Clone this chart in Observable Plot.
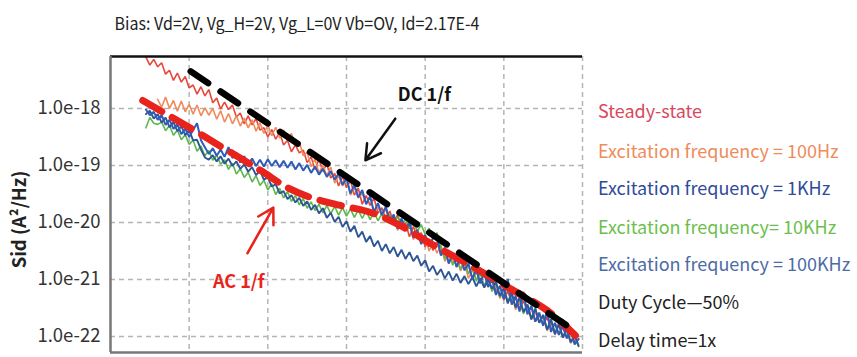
<!DOCTYPE html>
<html><head><meta charset="utf-8">
<script src="https://cdn.jsdelivr.net/npm/d3@7"></script>
<script src="https://cdn.jsdelivr.net/npm/@observablehq/plot@0.6"></script>
<style>
body{margin:0;background:#fff;}
#wrap{position:relative;width:857px;height:357px;overflow:hidden;font-family:"Noto Sans CJK SC","Noto Sans",sans-serif;}
#title{position:absolute;left:0;width:594px;top:10px;text-align:center;font-size:17.5px;color:#222;white-space:nowrap;transform:scaleX(0.915);transform-origin:297px 0;}
#chart{position:absolute;left:0;top:40px;}
.leg{position:absolute;left:598px;font-size:18px;line-height:20px;white-space:nowrap;}
</style></head>
<body>
<div id="wrap">
  <div id="title"></div>
  <div id="chart"></div>
  <div id="legend"></div>
</div>
<script>
const titleText = "Bias: Vd=2V, Vg_H=2V, Vg_L=0V Vb=OV, Id=2.17E-4";
const yLabel = "Sid (A²/Hz)";
const yTicks = [-22, -21, -20, -19, -18];
const xGrid = [1, 2, 3, 4, 5, 6];

// log10 of frequency (x) shared by all measured series
const logFreq = [
0.45,0.50,0.55,0.60,0.65,0.70,0.75,0.80,0.85,0.90,
0.95,1.00,1.05,1.10,1.15,1.20,1.25,1.30,1.35,1.40,
1.45,1.50,1.55,1.60,1.65,1.70,1.75,1.80,1.85,1.90,
1.95,2.00,2.05,2.10,2.15,2.20,2.25,2.30,2.35,2.40,
2.45,2.50,2.55,2.60,2.65,2.70,2.75,2.80,2.85,2.90,
2.95,3.00,3.05,3.10,3.15,3.20,3.25,3.30,3.35,3.40,
3.45,3.50,3.55,3.60,3.65,3.70,3.75,3.80,3.85,3.90,
3.95,4.00,4.05,4.10,4.15,4.20,4.25,4.30,4.35,4.40,
4.45,4.50,4.55,4.60,4.65,4.70,4.75,4.80,4.85,4.90,
4.95,5.00,5.05,5.10,5.15,5.20,5.25,5.30,5.35,5.40,
5.45,5.50,5.55,5.60,5.65,5.70,5.75,5.80,5.85,5.90,
5.95];

// log10 of Sid for each series
const steadyState = [
-17.10,-17.24,-17.14,-17.27,-17.20,-17.40,-17.33,-17.51,-17.38,-17.54,
-17.44,-17.64,-17.59,-17.75,-17.62,-17.78,-17.67,-17.90,-17.82,-18.01,
-17.89,-18.02,-17.94,-18.15,-18.08,-18.27,-18.13,-18.29,-18.18,-18.38,
-18.34,-18.50,-18.37,-18.54,-18.42,-18.64,-18.56,-18.76,-18.64,-18.78,
-18.73,-18.95,-18.85,-19.07,-18.89,-19.10,-18.97,-19.22,-19.14,-19.36,
-19.19,-19.39,-19.26,-19.52,-19.40,-19.68,-19.53,-19.70,-19.57,-19.84,
-19.74,-19.95,-19.80,-20.01,-19.86,-20.09,-20.00,-20.25,-20.07,-20.25,
-20.18,-20.43,-20.29,-20.49,-20.34,-20.56,-20.50,-20.71,-20.54,-20.78,
-20.60,-20.83,-20.74,-20.98,-20.86,-21.05,-20.91,-21.12,-20.98,-21.20,
-21.12,-21.36,-21.20,-21.41,-21.32,-21.53,-21.37,-21.58,-21.49,-21.74,
-21.61,-21.80,-21.66,-21.87,-21.77,-21.96,-21.84,-22.03,-21.91,-22.10,
-22.05];

const exc100Hz = [
null,null,null,-17.84,-17.98,-17.80,-18.00,-17.86,-18.05,-17.87,
-18.06,-17.93,-18.10,-17.94,-18.13,-17.99,-18.12,-18.00,-18.19,-18.04,
-18.24,-18.09,-18.27,-18.13,-18.31,-18.17,-18.34,-18.20,-18.40,-18.25,
-18.44,-18.29,-18.48,-18.33,-18.52,-18.38,-18.56,-18.44,-18.64,-18.58,
-18.83,-18.77,-19.02,-18.89,-19.13,-19.00,-19.18,-19.03,-19.31,-19.18,
-19.36,-19.23,-19.52,-19.39,-19.57,-19.49,-19.67,-19.55,-19.84,-19.73,
-19.89,-19.76,-20.01,-19.88,-20.14,-19.97,-20.14,-20.03,-20.30,-20.17,
-20.37,-20.24,-20.50,-20.35,-20.54,-20.39,-20.68,-20.56,-20.71,-20.60,
-20.85,-20.71,-20.98,-20.83,-21.01,-20.87,-21.14,-21.03,-21.19,-21.08,
-21.33,-21.19,-21.40,-21.25,-21.53,-21.40,-21.58,-21.46,-21.70,-21.57,
-21.75,-21.63,-21.90,-21.76,-21.97,-21.80,-22.00,-21.90,-22.12,-22.01,
-22.15];

const exc1KHz = [
-18.02,-18.12,-18.06,-18.20,-18.12,-18.29,-18.20,-18.36,-18.28,-18.45,
-18.36,-18.50,-18.38,-18.26,-18.56,-18.68,-18.80,-18.70,-18.83,-18.72,
-18.85,-18.68,-18.87,-18.78,-18.95,-18.84,-18.98,-18.88,-19.01,-18.90,
-19.02,-18.89,-19.01,-18.91,-19.03,-18.92,-19.04,-18.93,-19.07,-18.96,
-19.09,-18.99,-19.13,-19.02,-19.16,-19.06,-19.20,-19.10,-19.25,-19.14,
-19.34,-19.22,-19.49,-19.34,-19.56,-19.43,-19.68,-19.54,-19.82,-19.66,
-19.87,-19.72,-20.00,-19.86,-20.11,-19.93,-20.13,-20.00,-20.27,-20.13,
-20.38,-20.22,-20.42,-20.27,-20.23,-20.58,-20.44,-20.72,-20.55,-20.78,
-20.61,-20.84,-20.72,-20.99,-20.82,-21.07,-20.88,-21.13,-21.00,-21.27,
-21.11,-21.34,-20.99,-21.44,-21.29,-21.56,-21.22,-21.61,-21.46,-21.74,
-21.58,-21.81,-21.56,-21.92,-21.76,-21.97,-21.80,-22.03,-21.88,-22.14,
-22.04];

const exc10KHz = [
-18.34,-18.16,-18.26,-18.28,-18.24,-18.39,-18.30,-18.47,-18.38,-18.55,
-18.46,-18.63,-18.56,-18.75,-18.66,-18.83,-18.74,-18.91,-18.82,-18.98,
-18.90,-19.07,-18.96,-19.15,-19.06,-19.21,-19.12,-19.29,-19.18,-19.35,
-19.26,-19.43,-19.32,-19.51,-19.40,-19.57,-19.46,-19.63,-19.53,-19.69,
-19.58,-19.75,-19.64,-19.79,-19.68,-19.83,-19.70,-19.85,-19.72,-19.87,
-19.74,-19.89,-19.76,-19.91,-19.78,-19.93,-19.80,-19.95,-19.82,-19.97,
-19.84,-19.99,-19.86,-20.01,-19.90,-20.05,-19.94,-20.11,-20.00,-20.15,
-20.04,-20.21,-20.10,-20.29,-20.18,-20.43,-20.64,-20.50,-20.75,-20.61,
-20.82,-20.66,-20.90,-20.77,-21.03,-20.89,-21.11,-20.96,-21.21,-21.07,
-21.31,-21.14,-21.38,-21.26,-21.49,-21.34,-21.60,-21.44,-21.67,-21.51,
-21.75,-21.64,-21.88,-21.70,-21.93,-21.77,-22.01,-21.88,-22.10,-21.96,
-22.15];

const exc100KHz = [
-18.10,-18.04,-18.18,-18.10,-18.25,-18.16,-18.33,-18.24,-18.40,-18.31,
-18.47,-18.38,-18.56,-18.55,-18.72,-18.86,-18.90,-18.82,-18.93,-18.84,
-18.97,-18.88,-19.01,-18.93,-19.06,-18.98,-19.11,-19.03,-19.17,-19.09,
-19.25,-19.21,-19.37,-19.33,-19.49,-19.45,-19.59,-19.52,-19.65,-19.57,
-19.71,-19.63,-19.78,-19.69,-19.84,-19.75,-19.92,-19.83,-19.99,-19.90,
-20.08,-19.98,-20.16,-20.06,-20.26,-20.16,-20.34,-20.24,-20.42,-20.32,
-20.50,-20.38,-20.54,-20.43,-20.60,-20.48,-20.64,-20.52,-20.68,-20.58,
-20.76,-20.66,-20.86,-20.76,-20.92,-20.82,-20.98,-20.86,-21.02,-20.90,
-21.06,-20.94,-21.08,-20.96,-21.12,-20.98,-21.14,-21.00,-21.16,-21.04,
-21.29,-21.15,-21.42,-21.23,-21.49,-21.31,-21.57,-21.44,-21.70,-21.51,
-21.76,-21.62,-21.88,-21.70,-21.96,-21.78,-22.02,-21.86,-22.10,-21.98,
-22.17];

// fitted guides
const acFitFreq = [0.41,1.02,1.49,1.91,2.25,2.54,2.92,3.30,3.68,4.07,4.57,5.08,5.55,5.91];
const acFitSid  = [-17.86,-18.35,-18.74,-19.09,-19.39,-19.56,-19.70,-19.82,-20.05,-20.37,-20.75,-21.16,-21.54,-21.98];
const dcFitFreq = [1.02, 5.91];
const dcFitSid  = [-17.35, -21.91];

const legendLabels = ["Steady-state","Excitation frequency = 100Hz","Excitation frequency = 1KHz","Excitation frequency= 10KHz","Excitation frequency = 100KHz","Duty Cycle\u201450%","Delay time=1x"];
const legendColors = ["#d9485e","#ee8c5a","#2f4b9a","#6cbf4e","#4d6ca6","#222","#222"];
const legendCenters = [111,151,188,227,264,302,340];

const seriesColors = ["#e8483c","#f08a5a","#2f5cb8","#5cb84a","#2e5595"];
const seriesWidths = [1.6, 1.6, 2, 1.6, 1.9];
const seriesValues = [steadyState, exc100Hz, exc10KHz, exc100KHz, exc1KHz];
const drawColors = [seriesColors[0], seriesColors[1], seriesColors[3], seriesColors[4], seriesColors[2]];
const drawWidths = [seriesWidths[0], seriesWidths[1], seriesWidths[3], seriesWidths[4], seriesWidths[2]];

document.getElementById("title").textContent = titleText;

const yDomain = [-22.28, -17.09];
const toRows = (xs, ys) => xs.map((f, i) => ({f, v: ys[i]}));

const lineMarks = seriesValues.map((vals, k) =>
  Plot.line(toRows(logFreq, vals), {x: "f", y: "v", stroke: drawColors[k], strokeWidth: drawWidths[k], strokeLinejoin: "miter"})
);

const gridStyle = {stroke: "#b5b5b5", strokeWidth: 1.5, strokeDasharray: "5,4"};

const chart = Plot.plot({
  width: 857, height: 317,
  marginTop: 16, marginBottom: 5, marginLeft: 110, marginRight: 275,
  style: {fontFamily: "'Noto Sans CJK SC', 'Noto Sans', sans-serif", fontSize: "18px", color: "#333", background: "transparent"},
  x: {domain: [0, 6], axis: null},
  y: {domain: yDomain, axis: null},
  marks: [
    Plot.ruleX(xGrid, gridStyle),
    Plot.ruleY(yTicks, gridStyle),
    Plot.axisY({ticks: yTicks, tickFormat: d => `1.0e${d}`, tickSize: 0, tickPadding: 10, label: null, fill: "#333", fontSize: 18.5}),
    Plot.text([yLabel], {frameAnchor: "left", textAnchor: "middle", lineAnchor: "middle", dx: -90, dy: 15, rotate: -90, fontWeight: "bold", fontSize: 18.5, fill: "#222"}),
    ...lineMarks,
    Plot.line(toRows(acFitFreq, acFitSid), {x: "f", y: "v", stroke: "#e8231c", strokeWidth: 7, strokeDasharray: "22,12", curve: "catmull-rom"}),
    Plot.line(toRows(dcFitFreq, dcFitSid), {x: "f", y: "v", stroke: "#000", strokeWidth: 6.5, strokeDasharray: "21,15"}),
    Plot.arrow([{x1: 3.62, y1: -18.18, x2: 3.24, y2: -18.91}], {x1: "x1", y1: "y1", x2: "x2", y2: "y2", stroke: "#111", strokeWidth: 2.5, headLength: 11}),
    Plot.arrow([{x1: 1.74, y1: -20.54, x2: 2.07, y2: -19.74}], {x1: "x1", y1: "y1", x2: "x2", y2: "y2", stroke: "#e8231c", strokeWidth: 2.5, headLength: 11}),
    Plot.text([{x: 3.99, y: -17.77, t: "DC 1/f"}], {x: "x", y: "y", text: "t", fontWeight: "bold", fontSize: 18, fill: "#111"}),
    Plot.text([{x: 1.63, y: -21.04, t: "AC 1/f"}], {x: "x", y: "y", text: "t", fontWeight: "bold", fontSize: 18, fill: "#e8231c"}),
    Plot.ruleY([yDomain[1]], {stroke: "#111", strokeWidth: 2.5}),
    Plot.ruleY([yDomain[0]], {stroke: "#777", strokeWidth: 2.5}),
    Plot.ruleX([0], {stroke: "#777", strokeWidth: 2.5})
  ]
});
document.getElementById("chart").appendChild(chart);

const leg = document.getElementById("legend");
legendLabels.forEach((t, i) => {
  const d = document.createElement("div");
  d.className = "leg";
  d.style.top = (legendCenters[i] - 11) + "px";
  d.style.color = legendColors[i];
  d.textContent = t;
  leg.appendChild(d);
});
</script>
</body></html>
